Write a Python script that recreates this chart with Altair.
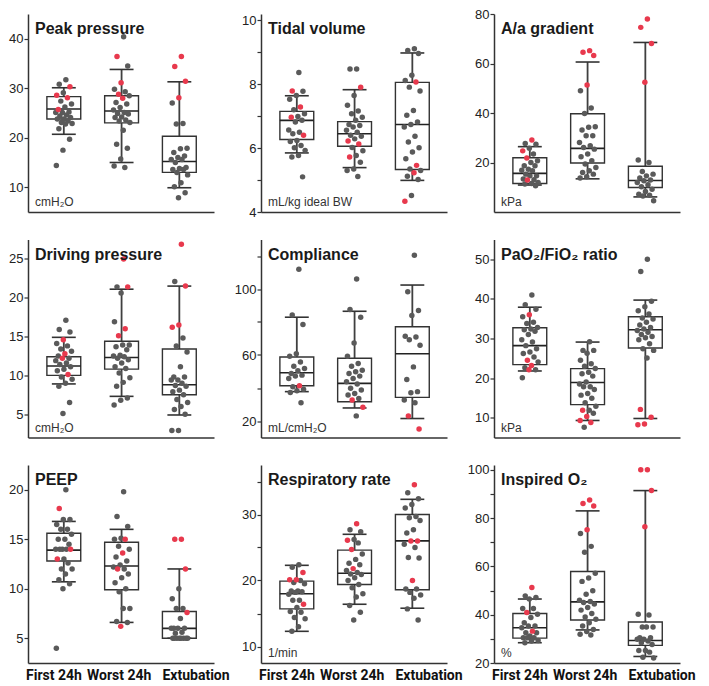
import json
import altair as alt
import pandas as pd

GROUPS = ["First 24h", "Worst 24h", "Extubation"]

# ---------------- data ----------------
# each *_grey / *_red: one list per group (First 24h, Worst 24h, Extubation)
# each *_box: [whisker low, Q1, median, Q3, whisker high] per group
peak_grey = [
    [31.7, 30.8, 29.1, 27.4, 26.8, 26.2, 25.2, 25.1, 25.1, 24.4, 24.6, 24.1, 23.8, 23.8, 23.4, 23.1, 22.8, 22.9, 21.8, 19.7, 17.5, 14.4],
    [40.4, 34.5, 29.8, 29.3, 28.5, 26.8, 27.1, 26.1, 25.6, 25.1, 24.9, 24.8, 24.2, 24.1, 23.4, 23.6, 23.1, 21.5, 18.7, 17.9, 15.7, 14.0, 14.3],
    [27.0, 22.8, 22.9, 17.9, 17.8, 17.0, 16.0, 15.6, 15.6, 15.0, 13.6, 13.8, 13.6, 13.0, 12.5, 10.9, 10.1, 8.9, 7.9, 14.0, 16.3],
]
peak_red = [[30.3, 28.6, 28.1, 25.7], [36.4, 31.1, 28.8, 28.0], [36.4, 34.4, 31.4, 28.1]]
peak_box = [[20.7, 23.8, 25.8, 28.3, 30.1], [15.0, 23.0, 25.4, 28.5, 33.8], [9.9, 13.0, 15.2, 20.3, 31.3]]

tidal_grey = [
    [8.37, 7.78, 7.65, 7.53, 7.20, 7.08, 6.99, 6.87, 6.82, 6.57, 6.50, 6.45, 6.21, 6.24, 6.08, 6.01, 5.93, 5.77, 5.72, 5.10],
    [8.48, 8.48, 7.65, 7.34, 7.16, 7.08, 6.97, 6.87, 6.74, 6.71, 6.66, 6.56, 6.50, 6.40, 6.37, 6.29, 6.02, 5.92, 5.77, 5.56, 5.35, 5.30, 5.11],
    [9.11, 9.06, 8.96, 8.28, 8.12, 7.91, 7.79, 7.18, 7.03, 6.82, 6.74, 6.66, 6.37, 6.19, 6.01, 5.88, 5.67, 5.35, 5.30, 5.12, 5.02, 4.52],
]
tidal_red = [[7.79, 7.29, 6.97, 6.40], [7.91, 6.22, 6.13, 5.72], [8.07, 5.46, 5.23, 4.34]]
tidal_box = [[5.85, 6.27, 6.87, 7.15, 7.64], [5.39, 6.06, 6.45, 6.83, 7.83], [4.99, 5.33, 6.74, 8.06, 8.98]]

aa_grey = [
    [27.7, 27.4, 25.8, 23.4, 20.7, 20.0, 18.7, 18.7, 17.3, 16.9, 16.7, 15.3, 14.6, 14.6, 13.3, 13.0, 11.9, 11.5, 11.3, 10.6],
    [49.0, 42.0, 39.8, 34.4, 34.2, 33.1, 30.8, 30.8, 28.1, 26.8, 26.1, 25.4, 23.4, 22.3, 20.7, 19.4, 18.0, 16.7, 16.0, 15.3, 14.2, 13.7],
    [21.0, 20.0, 16.4, 15.3, 14.6, 13.7, 12.9, 12.6, 11.9, 11.0, 10.2, 9.2, 8.3, 7.2, 6.8, 6.5, 4.5],
]
aa_red = [[29.1, 24.7, 21.8, 12.9], [65.2, 64.5, 63.2, 51.3], [78.0, 74.6, 68.1, 52.4]]
aa_box = [[10.9, 11.5, 15.6, 21.9, 26.4], [13.4, 19.8, 25.7, 39.7, 60.6], [6.1, 9.9, 12.7, 18.5, 68.5]]

drive_grey = [
    [17.1, 15.9, 15.6, 14.1, 13.8, 13.4, 13.1, 12.5, 12.2, 11.9, 11.6, 11.4, 11.1, 10.8, 10.6, 9.8, 9.5, 9.0, 8.6, 6.5, 5.1],
    [21.4, 20.6, 16.9, 13.9, 13.9, 13.7, 13.3, 12.6, 12.5, 12.4, 12.2, 12.0, 11.6, 11.1, 10.9, 10.3, 9.7, 9.1, 8.6, 7.1, 6.8, 6.2],
    [22.1, 14.8, 13.8, 13.0, 11.1, 9.8, 9.8, 9.4, 9.4, 9.0, 8.7, 8.6, 8.1, 7.9, 7.5, 6.9, 6.5, 6.0, 5.6, 5.0, 2.9, 2.9],
]
drive_red = [[14.6, 12.8, 12.2, 10.1], [25.0, 21.4, 16.0, 15.1], [26.9, 21.5, 16.5, 16.2]]
drive_box = [[8.9, 10.0, 11.2, 12.4, 14.9], [7.3, 10.8, 12.3, 14.4, 21.1], [4.9, 7.5, 8.8, 13.4, 21.5]]

compl_grey = [
    [112, 84.3, 78.5, 60.8, 59.2, 55.8, 53.2, 51.8, 50.4, 48.8, 47.8, 47.2, 45.8, 40.8, 39.2, 38.4, 37.3, 31.1],
    [106, 87.6, 82.9, 67.3, 59.2, 54.8, 53.2, 50.8, 49.8, 48.8, 47.2, 45.8, 43.8, 42.4, 39.8, 38.8, 36.7, 35.7, 33.7, 23.1],
    [120.5, 98.4, 87.0, 84.0, 71.3, 70.9, 69.3, 65.9, 52.8, 45.2, 37.8, 37.1, 32.7, 31.1],
]
compl_red = [[41.4], [32.7, 28.3], [23.1, 15.1]]
compl_box = [[37.8, 41.4, 49.2, 58.8, 82.9], [27.9, 31.7, 42.8, 58.0, 86.5], [21.5, 34.3, 60.8, 77.1, 102.4]]

pf_grey = [
    [41.0, 38.5, 37.4, 35.5, 34.1, 33.8, 32.8, 32.4, 32.2, 31.8, 31.0, 29.7, 29.1, 28.2, 27.4, 26.6, 26.2, 25.3, 24.1, 22.6, 22.1, 20.1],
    [29.2, 27.0, 27.0, 26.3, 24.5, 23.6, 23.0, 22.4, 21.5, 21.1, 20.5, 19.0, 18.5, 17.8, 17.8, 17.1, 16.1, 15.7, 14.9, 13.8, 12.9, 11.9, 11.1, 7.6],
    [50.0, 46.9, 39.4, 38.0, 37.0, 36.2, 35.2, 34.9, 34.1, 33.4, 32.8, 32.4, 32.0, 31.6, 31.0, 30.5, 30.2, 29.7, 28.7, 27.4, 27.0, 25.1],
]
pf_red = [[36.0, 24.5, 23.2, 22.1], [11.9, 10.3, 9.3, 8.8], [12.1, 10.1, 8.4, 8.2]]
pf_box = [[21.8, 23.4, 28.2, 32.7, 37.9], [9.3, 13.3, 18.9, 22.4, 29.1], [9.8, 27.6, 32.2, 35.5, 39.7]]

peep_grey = [
    [20, 17, 17, 16.5, 16, 16, 15.5, 15, 15, 14.5, 14, 14, 14, 14, 13, 12.6, 12, 12, 11.5, 10.9, 10.5, 10, 4],
    [19.8, 17.3, 16.3, 15.1, 15, 14.3, 14, 13.2, 12.8, 12.4, 12.2, 12, 11.5, 11.1, 10.6, 10, 9.7, 8, 8, 6.7, 6.6],
    [10, 9, 8, 8, 7, 6, 6, 6, 6, 5.6, 5.5, 5, 5, 5, 5, 5, 5, 5, 5],
]
peep_red = [[18.1, 14, 13], [15, 13.6, 12, 6.2], [15, 15, 12, 7.6]]
peep_box = [[10.7, 12.8, 13.9, 15.6, 16.8], [6.6, 9.9, 12.3, 14.7, 16.0], [5.0, 5.0, 6.0, 7.7, 12.0]]

rr_grey = [
    [22.4, 22.0, 20.0, 19.7, 19.5, 18.4, 18.4, 18.3, 18.2, 17.9, 17.0, 17.0, 15.9, 15.3, 15.2, 14.4, 14.2, 13.0, 12.3],
    [27.7, 27.4, 26.2, 25.7, 24.0, 23.2, 22.6, 22.4, 21.5, 21.2, 21.0, 20.9, 20.4, 20.0, 19.4, 18.9, 18.0, 17.5, 16.2, 15.2, 14.0],
    [33.3, 32.4, 31.5, 31.0, 29.7, 29.5, 29.1, 27.7, 27.2, 25.5, 25.0, 23.5, 23.4, 18.7, 18.7, 18.2, 17.8, 17.3, 15.7, 14.0],
]
rr_red = [[21.2, 20.1, 20.1, 16.4], [28.6, 26.1, 24.7, 21.8], [34.5, 26.0, 26.0, 20.0]]
rr_box = [[12.3, 15.7, 18.0, 19.9, 22.3], [16.4, 19.4, 21.1, 24.6, 27.0], [15.8, 18.6, 26.0, 30.0, 32.3]]

fio2_grey = [
    [47.8, 47.1, 46.5, 42.6, 42.6, 40.2, 38.8, 36.7, 35.3, 35.3, 34.6, 32.5, 32.5, 31.2, 30.5, 30.5, 30.5, 29.3, 29.1, 28.4],
    [73.6, 68.3, 65.9, 57.2, 55.2, 53.8, 49.9, 48.5, 46.0, 45.5, 45.1, 44.4, 43.0, 41.9, 40.5, 39.1, 38.1, 36.7, 35.3, 33.9, 33.0, 31.9, 31.6],
    [40.2, 39.9, 34.9, 34.9, 34.9, 30.5, 30.5, 29.8, 29.8, 29.1, 28.4, 27.7, 25.2, 25.2, 24.5, 22.4, 22.1],
]
fio2_red = [[51.3, 40.9, 33.2], [87.5, 86.1, 85.0, 75.2], [100, 100, 91.4, 76.4]]
fio2_box = [[28.4, 30.3, 34.6, 40.5, 46.5], [33.7, 37.8, 45.3, 57.9, 83.0], [22.7, 27.3, 29.3, 37.0, 91.4]]

titles = ["Peak pressure", "Tidal volume", "A/a gradient",
          "Driving pressure", "Compliance", "PaO\u2082/FiO\u2082 ratio",
          "PEEP", "Respiratory rate", "Inspired O\u2082"]
units = ["cmH\u2082O", "mL/kg ideal BW", "kPa",
         "cmH\u2082O", "mL/cmH\u2082O", "kPa",
         "", "1/min", "%"]
domains = [[5, 45], [4, 10.2], [0, 80],
           [2, 27.5], [10, 130], [5, 55],
           [2.5, 22.5], [7.5, 37.5], [20, 102]]
tick_vals = [[10, 20, 30, 40], [4, 5, 6, 7, 8, 9, 10], [20, 40, 60, 80],
             [5, 10, 15, 20, 25], [20, 40, 60, 80, 100, 120], [10, 20, 30, 40, 50],
             [5, 10, 15, 20], [10, 15, 20, 25, 30, 35], [20, 30, 40, 50, 60, 70, 80, 90, 100]]
label_vals = [[10, 20, 30, 40], [4, 6, 8, 10], [20, 40, 60, 80],
              [5, 10, 15, 20, 25], [20, 60, 100], [10, 20, 30, 40, 50],
              [5, 10, 15, 20], [10, 20, 30], [20, 40, 60, 80, 100]]
greys = [peak_grey, tidal_grey, aa_grey, drive_grey, compl_grey, pf_grey, peep_grey, rr_grey, fio2_grey]
reds = [peak_red, tidal_red, aa_red, drive_red, compl_red, pf_red, peep_red, rr_red, fio2_red]
boxes = [peak_box, tidal_box, aa_box, drive_box, compl_box, pf_box, peep_box, rr_box, fio2_box]

# ---------------- styling ----------------
W, H = 186, 198
FONT = "Liberation Sans"
AX = "#333333"
GREY = "#5a5a5a"
RED = "#e8394d"
# where the three category labels sit under the x axis (spread a little, as in the original)
XLABEL_POS = [-0.18, 0.95, 2.28]


def make_panel(i, bottom):
    rows = []
    for gi in range(3):
        for v in greys[i][gi]:
            rows.append({"gi": gi, "v": v, "c": "grey"})
        for v in reds[i][gi]:
            rows.append({"gi": gi, "v": v, "c": "red"})
    pts = pd.DataFrame(rows)
    bx = pd.DataFrame([{"gi": gi, "lo": b[0], "q1": b[1], "med": b[2], "q3": b[3], "hi": b[4]}
                       for gi, b in enumerate(boxes[i])])

    xs = alt.Scale(domain=[-0.62, 2.6], nice=False, zero=False)
    ys = alt.Scale(domain=domains[i], nice=False, zero=False)
    xaxis = alt.Axis(values=XLABEL_POS,
                     labelExpr="datum.value < 0.5 ? '%s' : datum.value < 1.5 ? '%s' : '%s'" % tuple(GROUPS),
                     labels=bottom, ticks=False, grid=False, title=None,
                     domainColor=AX, domainWidth=1.5, labelFlush=False, labelOverlap=False, labelBound=False,
                     labelFont="Roboto", labelFontSize=14, labelFontWeight="bold",
                     labelColor="#111111", labelPadding=5)
    yaxis = alt.Axis(values=tick_vals[i],
                     labelExpr="indexof(%s, datum.value) >= 0 ? datum.label : ''" % json.dumps(label_vals[i]),
                     grid=False, title=None, tickSize=4, tickColor=AX, tickWidth=1.2,
                     domainColor=AX, domainWidth=1.5, labelFlush=False, labelOverlap=False,
                     labelFont=FONT, labelFontSize=13, labelColor="#222222", labelPadding=1)

    bb = alt.Chart(bx).transform_calculate(
        xl="datum.gi - 0.293", xr="datum.gi + 0.293",
        cl="datum.gi - 0.207", cr="datum.gi + 0.207")

    X = lambda f: alt.X(f, scale=xs, axis=xaxis)
    Y = lambda f: alt.Y(f, scale=ys, axis=yaxis)

    w_up = bb.mark_rule(color="#404040", strokeWidth=1.8).encode(x=X("gi:Q"), y=Y("q3:Q"), y2="hi:Q")
    w_dn = bb.mark_rule(color="#404040", strokeWidth=1.8).encode(x=X("gi:Q"), y=Y("lo:Q"), y2="q1:Q")
    c_hi = bb.mark_rule(color="#333333", strokeWidth=1.6).encode(x=X("cl:Q"), x2="cr:Q", y=Y("hi:Q"))
    c_lo = bb.mark_rule(color="#333333", strokeWidth=1.6).encode(x=X("cl:Q"), x2="cr:Q", y=Y("lo:Q"))
    box = bb.mark_rect(fillOpacity=0, stroke="#333333", strokeWidth=1.4).encode(
        x=X("xl:Q"), x2="xr:Q", y=Y("q1:Q"), y2="q3:Q")
    med = bb.mark_rule(color="#222222", strokeWidth=1.6).encode(x=X("xl:Q"), x2="xr:Q", y=Y("med:Q"))

    dots = alt.Chart(pts).transform_window(
        idx="row_number()", groupby=["gi"], sort=[alt.SortField("v", order="descending")]
    ).transform_calculate(
        xj="datum.gi + ((datum.idx * 0.6180339887) % 1 - 0.5) * 0.30"
    ).mark_circle(size=30, opacity=1).encode(
        x=X("xj:Q"), y=Y("v:Q"),
        color=alt.Color("c:N", scale=alt.Scale(domain=["grey", "red"], range=[GREY, RED]), legend=None),
        order=alt.Order("c:N"))

    ttl = alt.Chart(pd.DataFrame({"t": [titles[i]]})).mark_text(
        align="left", baseline="alphabetic", font=FONT, fontSize=16, fontWeight="bold", color="#1a1a1a"
    ).encode(x=alt.value(7), y=alt.value(20), text="t:N")
    layers = [w_up, w_dn, c_hi, c_lo, box, med, dots, ttl]
    if units[i]:
        unit = alt.Chart(pd.DataFrame({"t": [units[i]]})).mark_text(
            align="left", baseline="alphabetic", font=FONT, fontSize=12, color="#333333"
        ).encode(x=alt.value(7), y=alt.value(H - 6), text="t:N")
        layers.append(unit)
    return alt.layer(*layers).properties(width=W, height=H)


panels = [make_panel(i, i >= 6) for i in range(9)]

chart = alt.concat(*panels, columns=3, spacing={"row": 27.5, "column": 47}, bounds="flush").properties(
    padding={"left": 0, "top": 0, "right": 0, "bottom": 0}
).configure(font=FONT, background="white").configure_view(strokeWidth=0, stroke=None)

chart.save("out.html", embed_options={"renderer": "svg", "actions": False})
